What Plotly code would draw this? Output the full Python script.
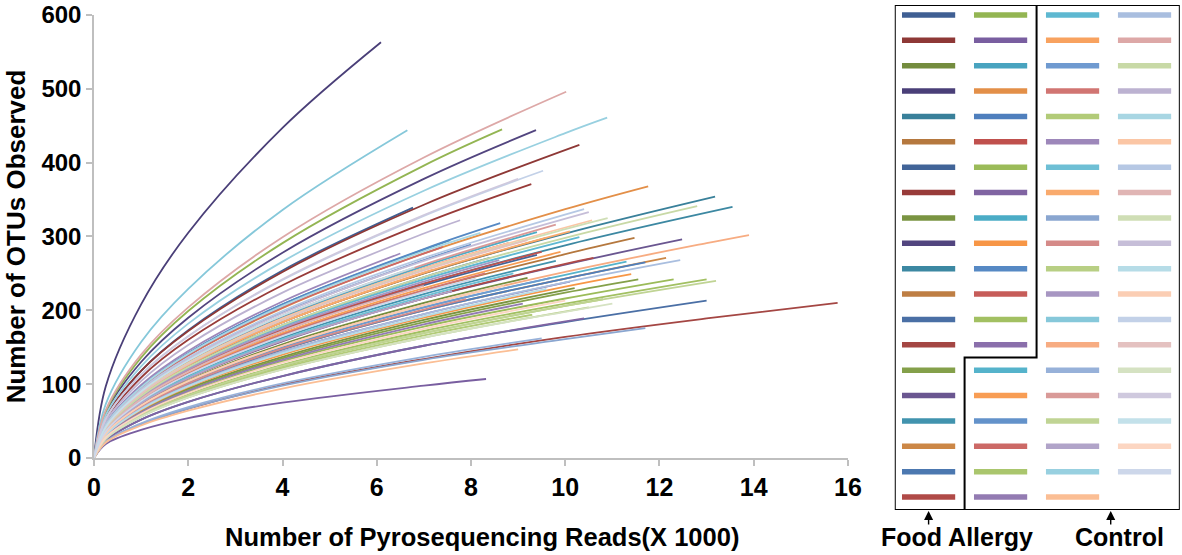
import plotly.graph_objects as go

# ---------------- data ----------------
# common rarefaction depths, thousands of reads
depths = [0, 0.25, 1, 2, 4, 7, 10, 13]

# total reads per sample (thousands) = where each curve ends
end_reads = [
    6.77, 10.3, 9.2, 6.09, 13.18, 11.47, 9.4, 9.28, 10.2, 9.38,
    13.55, 9.6, 13.0, 15.78, 11.55, 12.48, 9.8, 12.14, 8.4, 10.6,
    8.66, 8.32, 7.56, 11.76, 11.7, 9.5, 12.3, 10.4, 9.4, 11.4,
    8.62, 8.8, 13.0, 10.1, 11.3, 9.9, 8.0, 7.4, 10.8, 9.1,
    10.3, 7.2, 9.7, 8.3, 9.3, 6.5, 8.9, 10.1, 11.7, 7.9,
    10.5, 8.6, 6.65, 13.9, 9.5, 9.8, 13.2, 7.6, 10.89, 9.0,
    12.44, 10.02, 12.8, 7.77, 8.2, 10.57, 10.4, 7.0, 10.9, 10.5,
    9.6, 8.7, 9.53, 9.2, 11.0, 9.0, 6.8, 10.0, 8.1,
]

# OTUs observed at the depths above (those below the sample size), then at the sample size
otus = [
    [0, 55, 118, 173, 254, 339],
    [0, 55, 118, 172, 252, 343, 424],
    [0, 34, 72, 105, 154, 210, 244],
    [0, 97, 208, 305, 447, 563],
    [0, 40, 86, 125, 184, 250, 304, 354],
    [0, 36, 78, 114, 167, 227, 276, 298],
    [0, 37, 80, 117, 172, 234, 275],
    [0, 51, 109, 160, 234, 318, 371],
    [0, 30, 64, 94, 137, 187, 230],
    [0, 61, 130, 190, 278, 378, 444],
    [0, 38, 81, 119, 174, 236, 288, 340],
    [0, 40, 86, 126, 184, 250, 298],
    [0, 24, 52, 76, 111, 152, 184, 213],
    [0, 22, 46, 67, 99, 134, 164, 189, 210],
    [0, 29, 63, 92, 135, 184, 224, 242],
    [0, 35, 74, 108, 158, 216, 262, 296],
    [0, 35, 76, 111, 163, 222, 267],
    [0, 32, 69, 100, 147, 200, 243, 271],
    [0, 39, 84, 123, 180, 245, 271],
    [0, 35, 74, 108, 159, 216, 263, 271],
    [0, 63, 136, 199, 291, 396, 445],
    [0, 19, 38, 54, 75, 98, 107],
    [0, 45, 97, 142, 208, 295],
    [0, 44, 95, 139, 203, 277, 337, 368],
    [0, 32, 68, 100, 147, 200, 243, 265],
    [0, 38, 81, 119, 174, 236, 279],
    [0, 28, 61, 89, 131, 178, 216, 242],
    [0, 24, 52, 76, 111, 152, 189],
    [0, 42, 89, 131, 191, 260, 306],
    [0, 30, 65, 96, 140, 190, 232, 249],
    [0, 45, 97, 142, 208, 283, 318],
    [0, 41, 88, 129, 189, 257, 291],
    [0, 28, 59, 86, 126, 172, 209, 242],
    [0, 31, 67, 98, 144, 195, 239],
    [0, 33, 70, 102, 150, 204, 248, 266],
    [0, 37, 79, 116, 169, 230, 279],
    [0, 43, 92, 135, 197, 268, 289],
    [0, 44, 95, 139, 204, 286],
    [0, 27, 58, 85, 124, 169, 206, 215],
    [0, 29, 62, 91, 133, 181, 209],
    [0, 39, 83, 122, 178, 242, 299],
    [0, 40, 86, 126, 184, 255],
    [0, 33, 70, 102, 150, 204, 244],
    [0, 36, 78, 114, 167, 227, 250],
    [0, 27, 57, 83, 122, 166, 194],
    [0, 46, 99, 145, 212, 277],
    [0, 35, 75, 110, 161, 219, 250],
    [0, 40, 86, 126, 184, 251, 307],
    [0, 21, 46, 67, 98, 133, 161, 176],
    [0, 32, 69, 101, 148, 201, 215],
    [0, 26, 56, 82, 120, 163, 204],
    [0, 38, 82, 120, 176, 239, 268],
    [0, 73, 157, 229, 336, 444],
    [0, 33, 71, 104, 152, 207, 252, 291, 302],
    [0, 22, 47, 69, 101, 137, 162],
    [0, 42, 90, 132, 193, 262, 316],
    [0, 27, 58, 85, 125, 169, 206, 240],
    [0, 35, 74, 108, 159, 216, 226],
    [0, 58, 124, 182, 266, 362, 440, 461],
    [0, 21, 44, 64, 94, 128, 147],
    [0, 31, 67, 98, 144, 195, 238, 268],
    [0, 65, 140, 204, 299, 407, 496],
    [0, 39, 84, 123, 180, 245, 298, 341],
    [0, 49, 104, 153, 224, 304, 322],
    [0, 45, 96, 141, 206, 280, 305],
    [0, 41, 88, 129, 189, 257, 322],
    [0, 43, 93, 136, 199, 271, 337],
    [0, 37, 80, 117, 172, 233],
    [0, 41, 87, 128, 187, 255, 310, 325],
    [0, 43, 91, 134, 196, 267, 333],
    [0, 31, 66, 97, 142, 192, 229],
    [0, 33, 71, 104, 152, 207, 233],
    [0, 53, 113, 165, 241, 328, 389],
    [0, 41, 87, 127, 187, 254, 295],
    [0, 26, 56, 82, 120, 163, 198, 209],
    [0, 53, 113, 165, 242, 329, 378],
    [0, 42, 90, 132, 193, 258],
    [0, 28, 60, 88, 129, 175, 213],
    [0, 36, 77, 113, 165, 225, 243],
]

colors = [
    "#3F5F93", "#8E3836", "#748C3E", "#4A3F78", "#39809A", "#B5783E", "#416498", "#983B39", "#7A9442", "#52457F",
    "#3C88A2", "#BE7E43", "#4A6FA5", "#A44643", "#84A04A", "#6A5690", "#4193AE", "#CC8746", "#4C78B0", "#B04A47",
    "#93B552", "#795EA0", "#48A3BF", "#E38F48", "#4F7FBD", "#C0504D", "#9BBB59", "#8064A2", "#4BACC6", "#F79646",
    "#5689C4", "#C65C59", "#A2C062", "#8A6FAB", "#55B3CB", "#F89D54", "#6392CA", "#CC6966", "#AAC66D", "#937BB2",
    "#5EB8D1", "#F8A25F", "#6F9AD0", "#D17572", "#B2CB78", "#9D87BA", "#6EBFD5", "#F9AA6D", "#8AA6D0", "#D58A88",
    "#B8CF84", "#A796C2", "#86C8DA", "#F7AC82", "#97B1D9", "#D99A98", "#C0D494", "#B1A4C9", "#98D0E0", "#FBBE94",
    "#A9BEDF", "#DDA8A7", "#C8D9A6", "#BCB2D1", "#A8D6E3", "#FBC6A5", "#B6C8E4", "#E0B5B4", "#CFDEB5", "#C6BED8",
    "#B6DCE7", "#FBCEB4", "#C3D1E8", "#E4C1C0", "#D5E2C2", "#CFC9DE", "#C3E1EA", "#FCD6C2", "#CDD7EA",
]

n_food_allergy = 34
n_control = 45
legend_rows = 20
x_ticks = [0, 2, 4, 6, 8, 10, 12, 14, 16]
y_ticks = [0, 100, 200, 300, 400, 500, 600]

FONT = "Liberation Sans, Arial, sans-serif"

fig = go.Figure()

# ---------------- rarefaction curves ----------------
for i, ys in enumerate(otus):
    xs = depths[:len(ys) - 1] + [end_reads[i]]
    fig.add_trace(go.Scatter(
        x=xs, y=ys, mode="lines",
        line=dict(color=colors[i], width=1.8, shape="spline", smoothing=1.0),
        showlegend=False, hoverinfo="skip",
    ))

# ---------------- custom legend grid ----------------
n_total = n_food_allergy + n_control
leg_col = [i // legend_rows for i in range(n_total)]
leg_row = [i % legend_rows for i in range(n_total)]
fig.add_trace(go.Scatter(
    x=leg_col, y=leg_row, mode="markers", xaxis="x2", yaxis="y2",
    marker=dict(symbol="line-ew", size=38, color=colors,
                line=dict(width=5.5, color=colors)),
    showlegend=False, hoverinfo="skip",
))

n_cols = (n_total + legend_rows - 1) // legend_rows
left, right = -0.47, n_cols - 1 + 0.49
top, bottom = -0.39, legend_rows - 1 + 0.51
full_cols = n_food_allergy // legend_rows
rem = n_food_allergy % legend_rows

fig.add_shape(type="rect", xref="x2", yref="y2", x0=left, x1=right, y0=top, y1=bottom,
              line=dict(color="black", width=2))
div_path = (f"M {full_cols + 0.5} {top} L {full_cols + 0.5} {rem - 0.5} "
            f"L {full_cols - 0.5} {rem - 0.5} L {full_cols - 0.5} {bottom}")
fig.add_shape(type="path", xref="x2", yref="y2", path=div_path,
              line=dict(color="black", width=2))

# group arrows + labels
for gx in [0, 2.53]:
    fig.add_annotation(x=gx, y=bottom, xref="x2", yref="y2", text="", showarrow=True,
                       ax=0, ay=16, arrowhead=2, arrowsize=1.3, arrowwidth=1.4,
                       arrowcolor="black", standoff=1)
fig.add_annotation(x=0.2175, y=-0.053, xref="x2 domain", yref="y2 domain",
                   text="Food Allergy", showarrow=False, xanchor="center", yanchor="middle",
                   font=dict(family=FONT, size=25, color="black", weight="bold"))
fig.add_annotation(x=0.789, y=-0.053, xref="x2 domain", yref="y2 domain",
                   text="Control", showarrow=False, xanchor="center", yanchor="middle",
                   font=dict(family=FONT, size=25, color="black", weight="bold"))

# x-axis title (slightly right of centre, as in the original)
fig.add_annotation(x=0.5146, y=-0.178, xref="x domain", yref="y domain",
                   text="Number of Pyrosequencing Reads(X 1000)", showarrow=False,
                   xanchor="center", yanchor="middle",
                   font=dict(family=FONT, size=25.5, color="black", weight="bold"))

axis_gray = "#BFBFBF"
fig.update_layout(
    width=1182, height=555,
    margin=dict(l=94, r=0, t=5, b=40),
    paper_bgcolor="white", plot_bgcolor="white",
    xaxis=dict(domain=[0, 0.693], range=[0, 16], tickvals=x_ticks,
               showline=True, linecolor=axis_gray, linewidth=1.5,
               ticks="outside", ticklen=6, tickcolor=axis_gray, tickwidth=1.5,
               showgrid=False, zeroline=False,
               tickfont=dict(family=FONT, size=25, color="black", weight="bold"),
               automargin=False, anchor="y"),
    yaxis=dict(domain=[0.1118, 0.9804], range=[0, 600], tickvals=y_ticks,
               showline=True, linecolor=axis_gray, linewidth=1.5,
               ticks="outside", ticklen=6, tickcolor=axis_gray, tickwidth=1.5,
               showgrid=False, zeroline=False,
               tickfont=dict(family=FONT, size=24, color="black", weight="bold"),
               title=dict(text="Number of OTUs Observed", standoff=8,
                          font=dict(family=FONT, size=26, color="black", weight="bold")),
               automargin=False, anchor="x"),
    xaxis2=dict(domain=[0.736, 0.998], range=[left, right], visible=False, fixedrange=True,
                anchor="y2"),
    yaxis2=dict(domain=[0.0098, 1.0], range=[bottom, top], visible=False, fixedrange=True,
                anchor="x2"),
)

fig.write_html("out.html", config={"displayModeBar": False})
